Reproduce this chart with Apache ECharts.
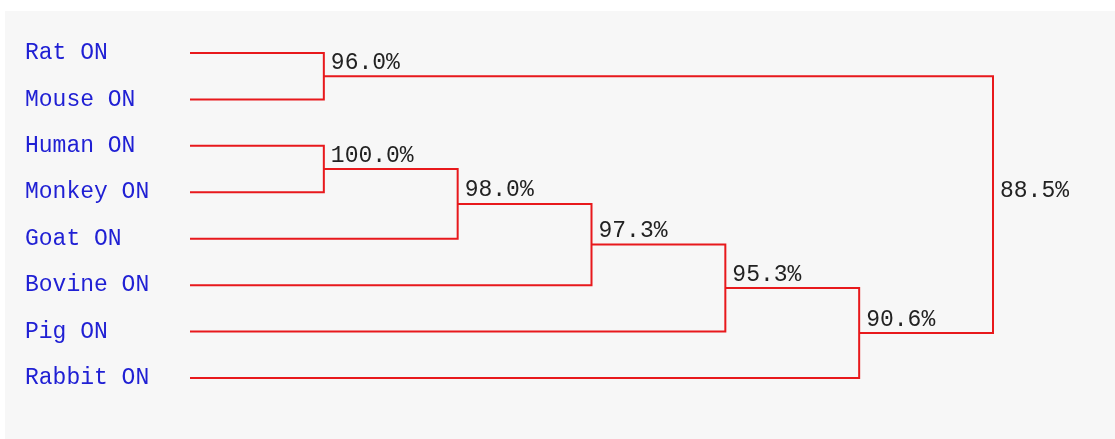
<!DOCTYPE html>
<html>
<head>
<meta charset="utf-8">
<script src="https://cdn.jsdelivr.net/npm/echarts@6/dist/echarts.min.js"></script>
<style>
  html, body { margin: 0; padding: 0; background: #ffffff; }
  #main { width: 1115px; height: 439px; }
</style>
</head>
<body>
<div id="main"></div>
<script>
// leaves, top to bottom
var leaves = ['Rat ON', 'Mouse ON', 'Human ON', 'Monkey ON', 'Goat ON', 'Bovine ON', 'Pig ON', 'Rabbit ON'];
// merges: [left child, right child, similarity]; children < 0 are leaves (-1 - index), >= 0 are earlier merges
var mergeA = [-1, -3, 1, 2, 3, 4, 0];
var mergeB = [-2, -4, -5, -6, -7, -8, 5];
var similarity = ['96.0%', '100.0%', '98.0%', '97.3%', '95.3%', '90.6%', '88.5%'];

// node depth (x) and mean leaf position (y)
var nodeX = [], nodeY = [];
function childPos(c) {
    if (c < 0) return [0, -1 - c];
    return [nodeX[c], nodeY[c]];
}
for (var i = 0; i < mergeA.length; i++) {
    var a = childPos(mergeA[i]), b = childPos(mergeB[i]);
    nodeX.push(Math.max(a[0], b[0]) + 1);
    nodeY.push((a[1] + b[1]) / 2);
}
var nodes = [];
for (var i = 0; i < mergeA.length; i++) {
    var a = childPos(mergeA[i]), b = childPos(mergeB[i]);
    nodes.push([nodeX[i], nodeY[i], a[0], a[1], b[0], b[1], similarity[i]]);
}

var myChart = echarts.init(document.getElementById('main'));
var option = {
    backgroundColor: '#ffffff',
    animation: false,
    graphic: [{
        type: 'rect',
        z: -10,
        shape: { x: 5, y: 11, width: 1110, height: 428 },
        style: { fill: '#f7f7f7' }
    }],
    grid: { left: 190, right: 122, top: 53, bottom: 61 },
    xAxis: {
        type: 'value', min: 0, max: 6,
        show: false
    },
    yAxis: [{
        type: 'value', min: 0, max: 7, inverse: true,
        show: false
    }, {
        type: 'category',
        data: leaves,
        inverse: true,
        boundaryGap: false,
        position: 'left',
        axisLine: { show: false },
        axisTick: { show: false },
        splitLine: { show: false },
        axisLabel: {
            align: 'left',
            margin: 165,
            color: '#2020d4',
            fontFamily: 'Liberation Mono',
            fontSize: 23
        }
    }],
    series: [{
        type: 'custom',
        coordinateSystem: 'cartesian2d',
        data: nodes,
        renderItem: function (params, api) {
            var p = api.coord([api.value(0), api.value(1)]);
            var a = api.coord([api.value(2), api.value(3)]);
            var b = api.coord([api.value(4), api.value(5)]);
            var x = p[0];
            return {
                type: 'group',
                children: [{
                    type: 'polyline',
                    shape: { points: [a, [x, a[1]], [x, b[1]], b] },
                    style: { stroke: '#e8191c', lineWidth: 2, fill: null }
                }, {
                    type: 'text',
                    x: x + 7,
                    y: p[1] - 2,
                    style: {
                        text: similarity[params.dataIndex],
                        fill: '#222222',
                        font: '23px "Liberation Mono"',
                        textAlign: 'left',
                        textVerticalAlign: 'bottom'
                    }
                }]
            };
        }
    }]
};
myChart.setOption(option);
</script>
</body>
</html>
